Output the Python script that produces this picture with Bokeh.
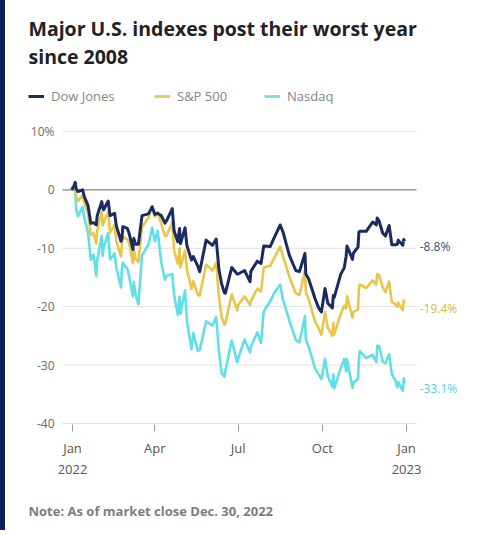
import pandas as pd
from bokeh.plotting import figure
from bokeh.layouts import row
from bokeh.models import Range1d, FixedTicker, Legend, LegendItem, Title, Label, Spacer
from bokeh.embed import file_html
from bokeh.resources import INLINE
from bokeh.core.properties import value

# ---- data (YTD % change) ----
dates = ["2021-12-31", "2022-01-03", "2022-01-04", "2022-01-05", "2022-01-07", "2022-01-12",
         "2022-01-14", "2022-01-18", "2022-01-21", "2022-01-24", "2022-01-27", "2022-01-28",
         "2022-02-02", "2022-02-03", "2022-02-04", "2022-02-09", "2022-02-11", "2022-02-16",
         "2022-02-18", "2022-02-23", "2022-02-24", "2022-02-25", "2022-03-02", "2022-03-04",
         "2022-03-08", "2022-03-09", "2022-03-11", "2022-03-14", "2022-03-18", "2022-03-25",
         "2022-03-29", "2022-04-01", "2022-04-04", "2022-04-08", "2022-04-12", "2022-04-14",
         "2022-04-20", "2022-04-22", "2022-04-26", "2022-04-28", "2022-04-29", "2022-05-04",
         "2022-05-06", "2022-05-11", "2022-05-13", "2022-05-18", "2022-05-20", "2022-05-27",
         "2022-06-03", "2022-06-07", "2022-06-10", "2022-06-13", "2022-06-16", "2022-06-17",
         "2022-06-24", "2022-06-30", "2022-07-01", "2022-07-08", "2022-07-14", "2022-07-15",
         "2022-07-22", "2022-07-26", "2022-07-29", "2022-08-05", "2022-08-10", "2022-08-16",
         "2022-08-19", "2022-08-26", "2022-09-02", "2022-09-06", "2022-09-12", "2022-09-13",
         "2022-09-16", "2022-09-23", "2022-09-27", "2022-09-30", "2022-10-04", "2022-10-07",
         "2022-10-12", "2022-10-13", "2022-10-14", "2022-10-21", "2022-10-25", "2022-10-27",
         "2022-10-28", "2022-11-03", "2022-11-04", "2022-11-09", "2022-11-10", "2022-11-11",
         "2022-11-18", "2022-11-25", "2022-11-29", "2022-11-30", "2022-12-02", "2022-12-06",
         "2022-12-09", "2022-12-13", "2022-12-16", "2022-12-20", "2022-12-22", "2022-12-23",
         "2022-12-28", "2022-12-29", "2022-12-30"]

dow = [0.0, 0.7, 1.3, 0.2, -0.3, 0.0,
       -1.2, -2.7, -5.7, -5.6, -6.0, -4.4,
       -2.0, -3.0, -3.4, -1.9, -4.4, -4.0,
       -6.2, -8.8, -8.4, -6.3, -6.6, -7.5,
       -10.2, -8.3, -9.3, -9.3, -4.4, -4.1,
       -2.9, -4.2, -4.0, -4.4, -5.7, -5.2,
       -3.2, -7.0, -8.9, -6.6, -9.2, -6.5,
       -9.5, -12.0, -11.4, -13.1, -14.0, -8.6,
       -9.5, -8.4, -13.6, -16.1, -17.6, -17.7,
       -13.3, -14.4, -14.4, -13.8, -15.7, -13.9,
       -12.2, -12.6, -9.6, -9.7, -8.0, -6.0,
       -7.2, -11.2, -13.8, -14.0, -10.9, -14.4,
       -15.2, -18.6, -20.2, -20.9, -16.9, -19.4,
       -20.2, -18.1, -18.4, -14.5, -13.3, -11.4,
       -9.6, -11.9, -10.8, -9.8, -7.2, -7.1,
       -7.1, -5.5, -6.0, -4.8, -5.3, -7.4,
       -7.9, -6.1, -9.4, -9.4, -9.3, -8.6,
       -9.5, -8.5, -8.8]

sp500 = [0.0, 0.6, 0.6, -1.3, -1.9, -0.9,
         -2.2, -4.0, -7.7, -7.4, -9.2, -7.0,
         -3.7, -6.1, -5.6, -3.8, -7.3, -6.0,
         -8.8, -11.4, -9.3, -8.0, -8.5, -9.2,
         -12.5, -10.1, -11.8, -12.4, -6.4, -4.7,
         -2.8, -4.6, -3.8, -5.8, -7.9, -7.8,
         -5.5, -10.4, -12.6, -10.0, -13.3, -10.4,
         -13.5, -17.0, -15.6, -18.0, -18.1, -12.8,
         -13.8, -12.5, -18.2, -21.8, -23.1, -22.9,
         -17.9, -20.6, -19.7, -18.2, -19.7, -19.0,
         -16.9, -17.4, -13.3, -13.0, -11.5, -9.7,
         -11.3, -14.9, -17.7, -18.0, -13.8, -17.5,
         -18.7, -22.5, -23.7, -24.8, -20.9, -23.6,
         -25.0, -22.8, -24.8, -21.3, -19.8, -20.3,
         -18.2, -21.9, -20.9, -20.5, -17.0, -16.2,
         -16.8, -15.5, -16.2, -14.4, -14.6, -16.7,
         -17.5, -15.7, -19.2, -19.6, -20.0, -19.3,
         -20.6, -18.9, -19.4]

nasdaq = [0.0, 1.2, 0.0, -3.3, -4.5, -2.9,
          -4.8, -7.3, -12.0, -11.1, -14.7, -12.0,
          -7.8, -11.3, -9.9, -7.4, -11.9, -10.9,
          -13.4, -16.7, -13.5, -12.5, -13.5, -14.9,
          -18.2, -15.8, -17.9, -19.6, -11.2, -9.4,
          -6.5, -8.8, -7.0, -12.4, -15.4, -14.7,
          -14.4, -17.9, -21.4, -18.3, -21.2, -17.2,
          -22.4, -27.3, -24.5, -27.6, -27.4, -22.5,
          -23.2, -21.8, -27.5, -31.4, -32.0, -31.0,
          -25.8, -29.5, -28.9, -25.6, -27.8, -26.8,
          -24.4, -26.2, -20.8, -19.1, -17.5, -16.2,
          -18.8, -22.4, -25.7, -26.1, -21.6, -25.6,
          -26.8, -30.5, -31.6, -32.4, -28.9, -31.9,
          -33.7, -31.6, -34.0, -30.6, -28.9, -31.1,
          -29.0, -33.9, -33.0, -32.4, -29.0, -27.6,
          -28.8, -28.2, -29.5, -26.7, -26.7, -29.4,
          -29.7, -28.1, -31.6, -32.7, -33.8, -32.9,
          -34.4, -32.3, -33.1]

series_names = ["Dow Jones", "S&P 500", "Nasdaq"]
series_colors = ["#1a2b61", "#e8c64c", "#62dfe6"]

y_ticks = [10, 0, -10, -20, -30, -40]
y_tick_labels = ["10%", "0", "-10", "-20", "-30", "-40"]
x_tick_dates = ["2022-01-01", "2022-04-01", "2022-07-01", "2022-10-01", "2023-01-01"]
x_tick_labels = ["Jan\n2022", "Apr", "Jul", "Oct", "Jan\n2023"]

title_lines = ["Major U.S. indexes post their worst year", "since 2008"]
note_text = "Note: As of market close Dec. 30, 2022"

# ---- derived ----
origin = pd.Timestamp("2022-01-01")
xs = [(pd.Timestamp(d) - origin).days for d in dates]
x_ticks = [(pd.Timestamp(d) - origin).days for d in x_tick_dates]

# ---- geometry (page pixels; layout origin lands at page (1, 1)) ----
STRIP = 5                                  # navy strip at the left edge
FL, FR, FT, FB = 22, 484, 3, 432           # frame edges on the page
ML, MT = FL - 1 - STRIP, FT - 1
FW, FH = FR - FL, FB - FT
MR = 2
MB = 99
px_per_day = 334 / 365.0                   # Jan 2022 -> page x 73, Jan 2023 -> 407
px_per_unit = 5.84                         # 0 -> page y 190, -40 -> 424
x0 = -(73 - FL) / px_per_day
x1 = x0 + FW / px_per_day
y_bot = -40 - (FB - 424) / px_per_unit
y_top = y_bot + FH / px_per_unit
grid_start = -10 / px_per_day
grid_end = 365 + 10 / px_per_day

def dx(page_x):
    return x0 + (page_x - FL) / px_per_day

def dy(page_y):
    return y_bot + (FB - page_y) / px_per_unit

p = figure(frame_width=FW, frame_height=FH, output_backend="svg", toolbar_location=None,
           x_range=Range1d(x0, x1), y_range=Range1d(y_bot, y_top),
           min_border_left=ML, min_border_right=MR, min_border_top=MT, min_border_bottom=MB)
p.outline_line_color = None
p.xgrid.visible = False
p.ygrid.visible = False
p.yaxis.visible = False
p.background_fill_color = "white"
p.border_fill_color = "white"

FONT = "Open Sans"

# grid lines
grid_colors = ["#a8a8a8" if t == 0 else "#e2e2e2" for t in y_ticks]
grid_widths = [1.6 if t == 0 else 1.0 for t in y_ticks]
p.segment(x0=[grid_start] * len(y_ticks), x1=[grid_end] * len(y_ticks), y0=y_ticks, y1=y_ticks,
          line_color=grid_colors, line_width=grid_widths)

# y tick labels (placed with the y scale)
p.text(x=[grid_start] * len(y_ticks), y=y_ticks, text=y_tick_labels, x_offset=-8,
       text_align="right", text_baseline="middle", text_font=value(FONT),
       text_font_size="12px", text_color="#6a6a6a")

# lines (Nasdaq first, Dow on top)
vals = [dow, sp500, nasdaq]
renderers = {}
for i in [2, 1, 0]:
    renderers[i] = p.line(xs, vals[i], line_color=series_colors[i],
                          line_width=3.0 if i == 0 else 2.6, line_join="round")

# end labels
last_x = xs[-1]
p.text(x=[last_x] * 3, y=[v[-1] for v in vals], text=[f"{v[-1]:.1f}%" for v in vals],
       text_color=["#3c4a78", "#d9b843", "#4fcfd8"], text_font=value(FONT), text_font_size="12px",
       text_baseline="middle", text_align="left", x_offset=15, y_offset=5)

# x axis (ticks drawn upward from just below the -40 line)
xa = p.xaxis[0]
xa.ticker = FixedTicker(ticks=x_ticks)
xa.major_label_overrides = {t: l for t, l in zip(x_ticks, x_tick_labels)}
xa.axis_line_color = None
xa.major_tick_line_color = "#9a9a9a"
xa.major_tick_in = 7
xa.major_tick_out = 0
xa.minor_tick_line_color = None
xa.major_label_standoff = 7
xa.major_label_text_font = FONT
xa.major_label_text_font_size = "13px"
xa.major_label_text_color = "#555555"

# title (inside the frame area, top)
for line, base in zip(title_lines, [29, 57]):
    p.add_layout(Label(x=dx(29), y=dy(base), text=line, text_font=FONT, text_font_style="bold",
                       text_font_size="19.5px", text_color="#222222", text_baseline="alphabetic"))

# legends: one per series, positioned individually
legend_x_page = [29, 155, 265]
for i in range(3):
    lg = Legend(items=[LegendItem(label=series_names[i], renderers=[renderers[i]])],
                location=(legend_x_page[i] - FL, FB - 106), orientation="horizontal",
                glyph_width=16, glyph_height=14, label_height=14, label_standoff=7,
                padding=0, margin=0, spacing=0, border_line_alpha=0, background_fill_alpha=0,
                label_text_font=FONT, label_text_font_size="13px", label_text_color="#858585")
    p.add_layout(lg)

# note below the axis
p.add_layout(Title(text=note_text, text_font=FONT, text_font_style="bold",
                   text_font_size="13px", text_color="#7d7d7d", offset=29 - FL, standoff=36), "below")

strip = Spacer(width=STRIP, height=MT + FH + MB, styles={"background-color": "#0c2258"})
layout = row(strip, p, spacing=0)

open("out.html", "w").write(file_html(layout, INLINE))
